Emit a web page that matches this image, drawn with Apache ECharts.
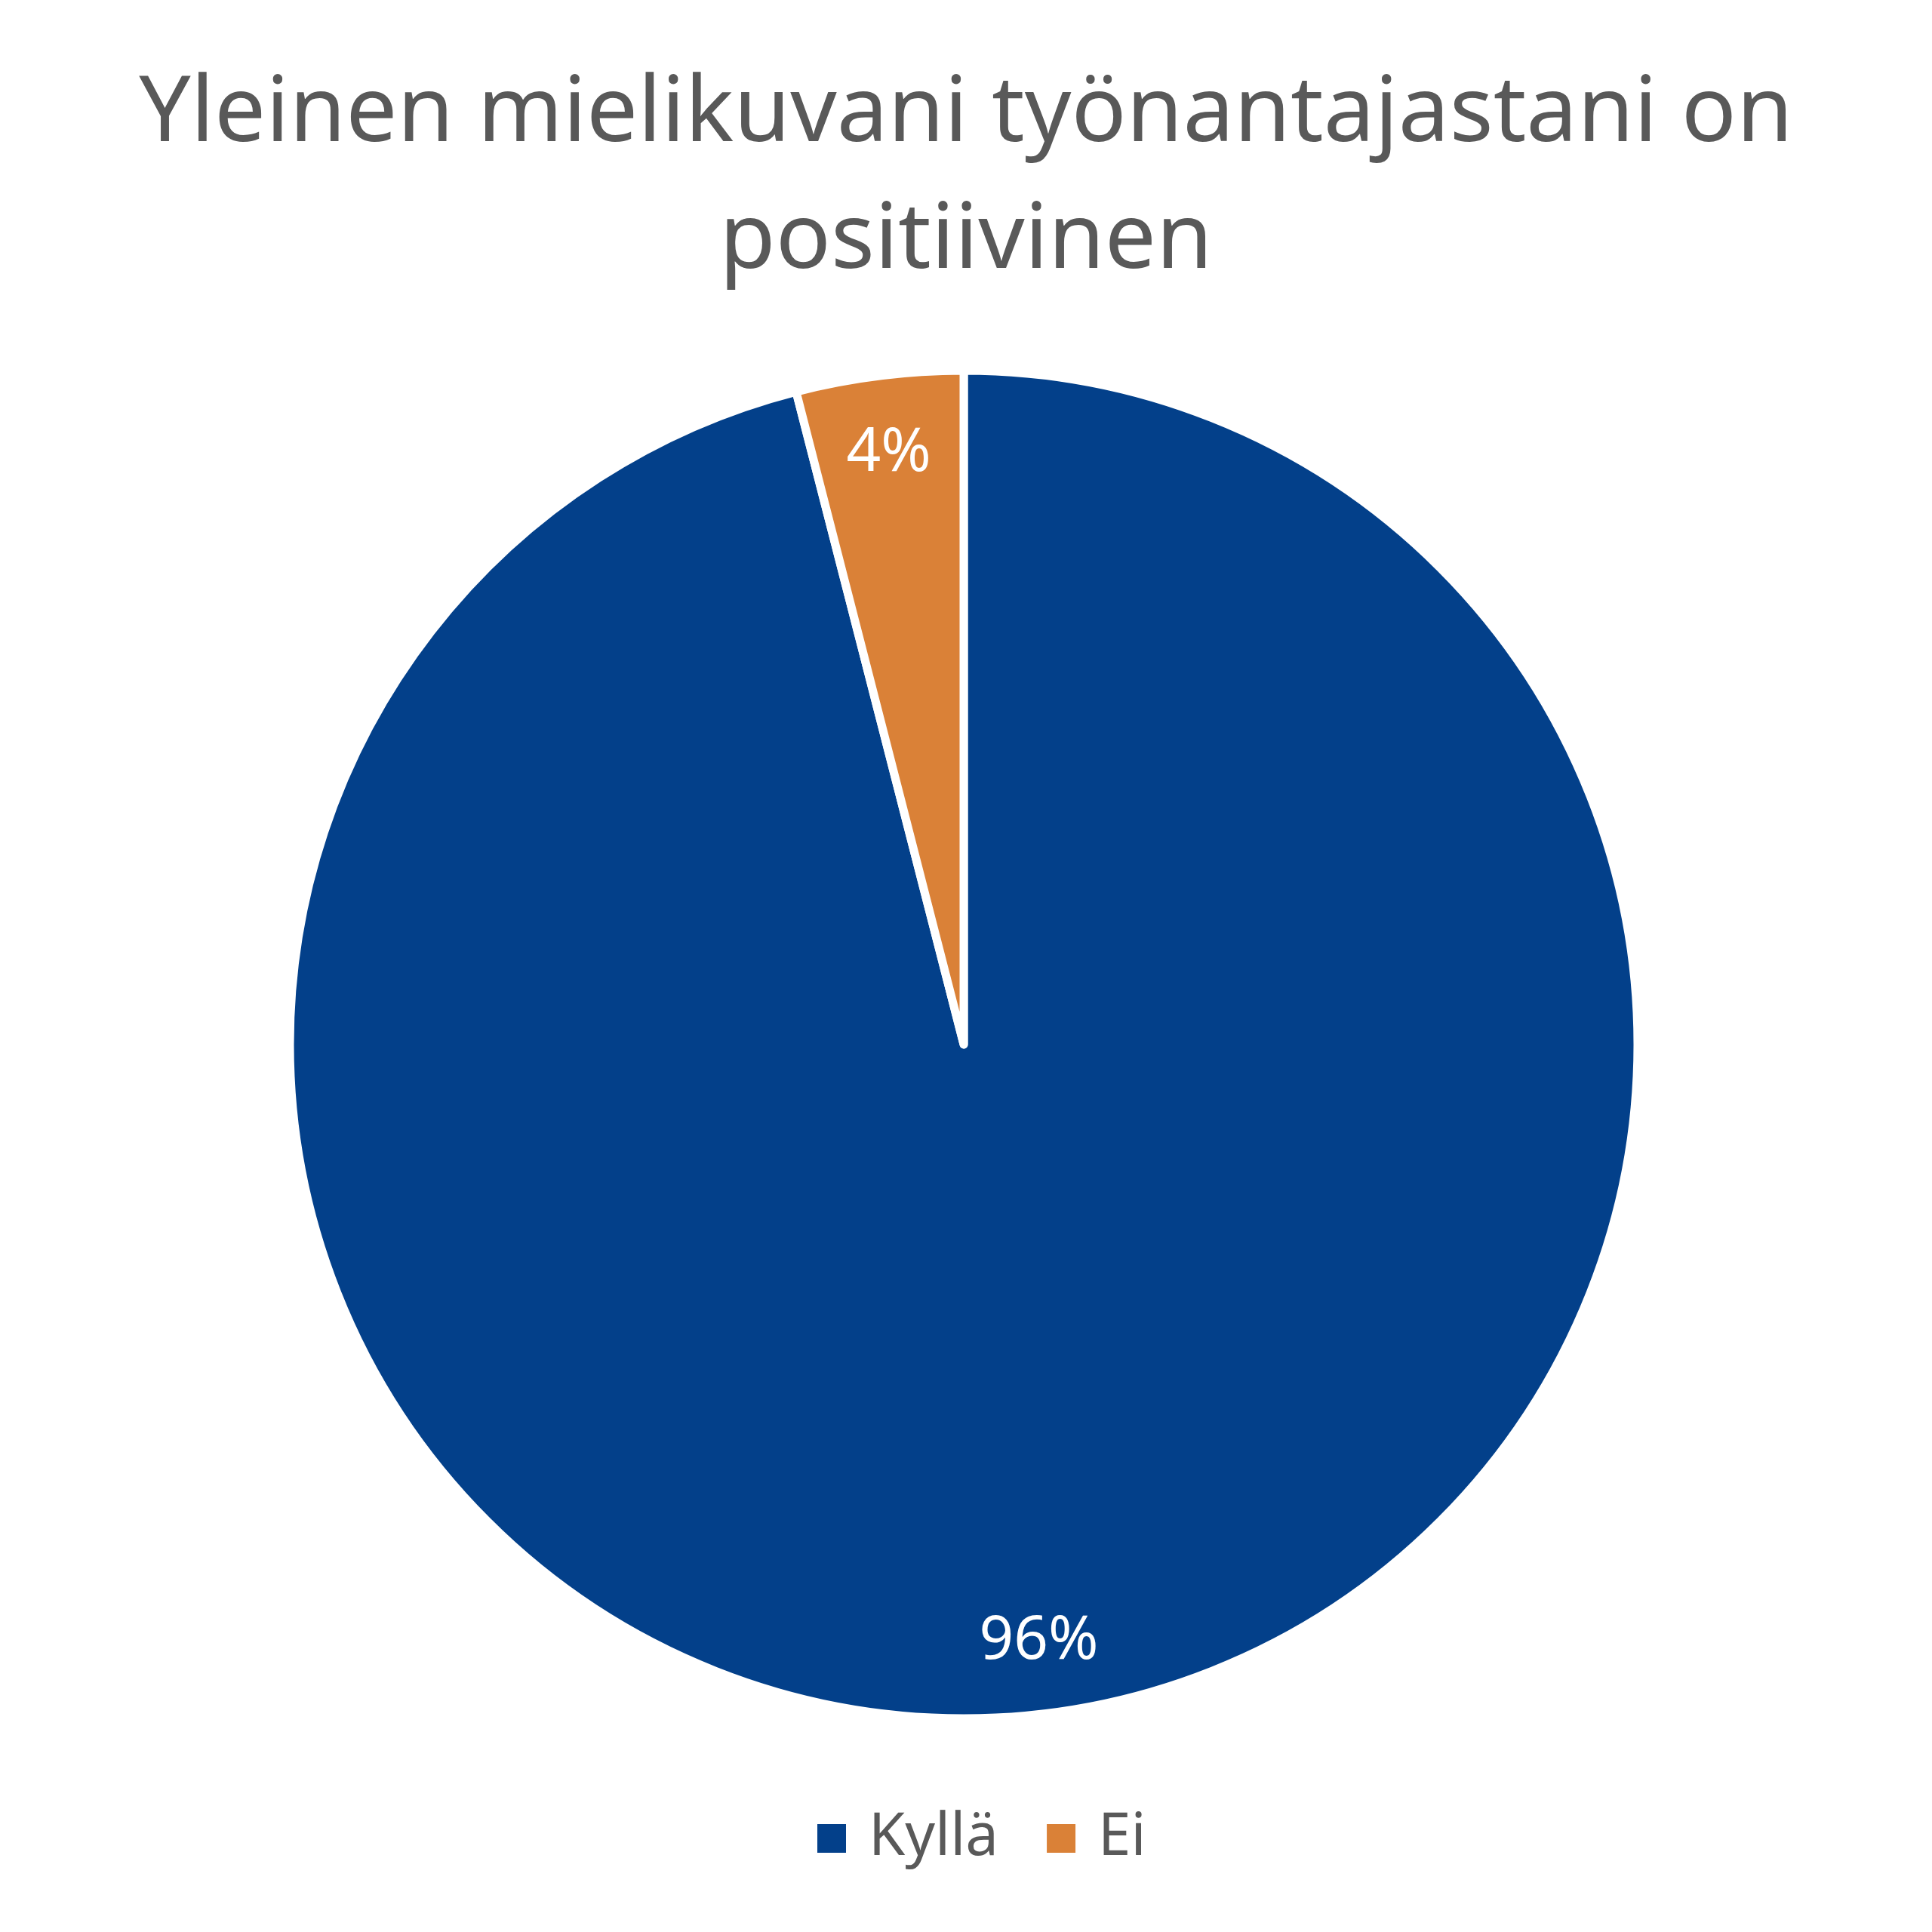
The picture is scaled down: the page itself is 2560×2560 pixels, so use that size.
<!DOCTYPE html>
<html>
<head>
<meta charset="utf-8">
<script src="https://cdn.jsdelivr.net/npm/echarts@6/dist/echarts.min.js"></script>
<style>
  html, body { margin: 0; padding: 0; background: #fff; }
  #chart { width: 2560px; height: 2560px; }
</style>
</head>
<body>
<div id="chart"></div>
<script>
// values
const titleText = 'Yleinen mielikuvani työnantajastani on\npositiivinen'
const categories = ['Kyllä', 'Ei']
const shares = [96, 4]
const colors = ['#03408A', '#DA8137']

const pieData = categories.map((name, i) => ({
    name,
    value: shares[i],
    itemStyle: { color: colors[i] }
}))

const chart = echarts.init(document.getElementById('chart'))

const option = {
    backgroundColor: '#ffffff',
    textStyle: { fontFamily: 'Noto Sans' },
    title: {
        text: titleText,
        left: 'center',
        top: 64,
        textStyle: {
            color: '#595959',
            fontSize: 121,
            fontWeight: 'normal',
            lineHeight: 168,
            fontFamily: 'Noto Sans'
        }
    },
    legend: {
        bottom: 80,
        left: 1076,
        icon: 'rect',
        itemWidth: 40,
        itemHeight: 40,
        itemGap: 62,
        data: categories,
        textStyle: {
            color: '#595959',
            fontSize: 78,
            padding: [0, 0, 0, 24]
        }
    },
    series: [
        {
            type: 'pie',
            center: [1277, 1384],
            radius: [0, 893],
            startAngle: 90,
            clockwise: true,
            data: pieData,
            label: { show: false },
            labelLine: { show: false },
            itemStyle: { borderColor: '#ffffff', borderWidth: 11 },
            emphasis: { disabled: true }
        },
        {
            // transparent ring only used to place the labels near the rim
            type: 'pie',
            center: [1277, 1388],
            radius: [700, 880],
            startAngle: 90,
            clockwise: true,
            silent: true,
            legendHoverLink: false,
            data: categories.map((name, i) => ({ name, value: shares[i] })),
            itemStyle: { color: 'rgba(0,0,0,0)', borderWidth: 0 },
            label: {
                show: true,
                position: 'inside',
                formatter: '{c}%',
                color: '#ffffff',
                fontSize: 80,
                fontFamily: 'Noto Sans'
            },
            labelLine: { show: false },
            emphasis: { disabled: true }
        }
    ]
}

chart.setOption(option)
</script>
</body>
</html>
